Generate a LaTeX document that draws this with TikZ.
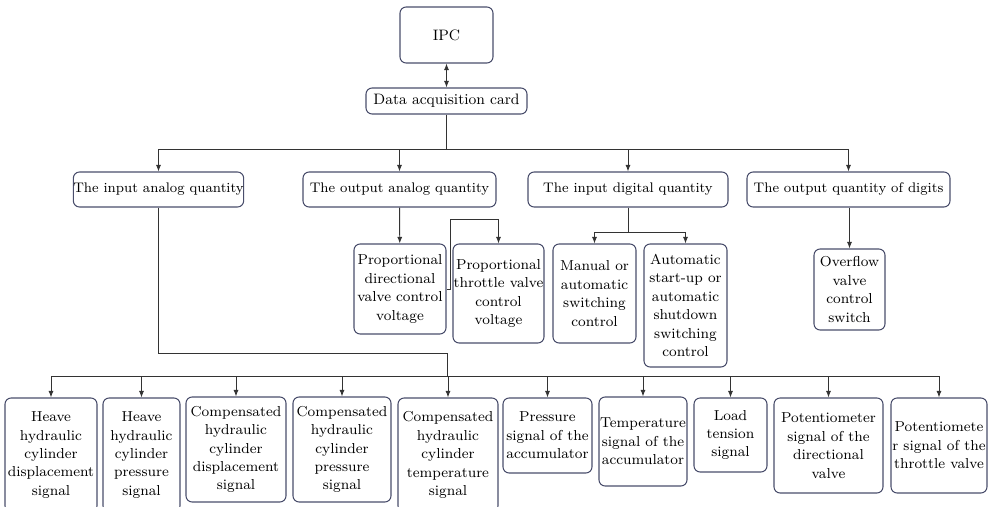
\documentclass[tikz,border=0pt]{standalone}
\usepackage{tikz}
\usetikzlibrary{arrows.meta}
\definecolor{Frame}{HTML}{4A4E6C}
\definecolor{Wire}{HTML}{333333}

\begin{document}
\begin{tikzpicture}[
      x=0.02cm, y=-0.02cm,
      box/.style={draw=Frame, line width=0.6pt, rounded corners=3.5pt, inner sep=0pt,
                  align=center, font=\fontsize{8.2pt}{10.5pt}\selectfont},
      head/.style={box, font=\fontsize{8.6pt}{10.5pt}\selectfont},
      kind/.style={box, font=\fontsize{7.9pt}{10.5pt}\selectfont},
      sz/.style 2 args={minimum width=#1*0.02cm, minimum height=#2*0.02cm},
      wire/.style={Wire, line width=0.55pt},
      ar/.style={wire, -{Latex[length=1.3mm, width=1mm]}},
      dar/.style={wire, {Latex[length=1.3mm, width=1mm]}-{Latex[length=1.3mm, width=1mm]}}]

    \useasboundingbox (0,0) rectangle (991,507);

    % top
    \node[head, sz={93}{56}] (ipc) at (446.5,35) {IPC};
    \node[head, sz={161}{26}] (card) at (446.5,101) {Data acquisition card};

    % quantities
    \node[kind, sz={169}{35}] (ia) at (158.5,189.5) {The input analog quantity};
    \node[kind, sz={193}{35}] (oa) at (399.5,189.5) {The output analog quantity};
    \node[kind, sz={200}{35}] (id) at (628,189.5) {The input digital quantity};
    \node[kind, sz={203}{35}] (od) at (848.5,189.5) {The output quantity of digits};

    % outputs
    \node[box, sz={92}{90}] (dirv) at (400,289) {Proportional\\directional\\valve control\\voltage};
    \node[box, sz={91}{99}] (thr) at (498.5,293.5) {Proportional\\throttle valve\\control\\voltage};
    \node[box, sz={83}{99}] (man) at (594.5,293.5) {Manual or\\automatic\\switching\\control};
    \node[box, sz={83}{123}] (aut) at (685.5,305.5) {Automatic\\start-up or\\automatic\\shutdown\\switching\\control};
    \node[box, sz={71}{81}] (ovf) at (849.5,289.5) {Overflow\\valve\\control\\switch};

    % input signals
    \node[box, sz={92}{114}] (hdisp) at (51,455) {Heave\\hydraulic\\cylinder\\displacement\\signal};
    \node[box, sz={77}{114}] (hpres) at (141.5,455) {Heave\\hydraulic\\cylinder\\pressure\\signal};
    \node[box, sz={100}{105}] (cdisp) at (236,449.5) {Compensated\\hydraulic\\cylinder\\displacement\\signal};
    \node[box, sz={98}{105}] (cpres) at (342,449.5) {Compensated\\hydraulic\\cylinder\\pressure\\signal};
    \node[box, sz={100}{114}] (ctemp) at (448,455) {Compensated\\hydraulic\\cylinder\\temperature\\signal};
    \node[box, sz={89}{75}] (apres) at (547.5,435.5) {Pressure\\signal of the\\accumulator};
    \node[box, sz={88}{89}] (atemp) at (643,441.5) {Temperature\\signal of the\\accumulator};
    \node[box, sz={73}{74}] (load) at (730.5,435) {Load\\tension\\signal};
    \node[box, sz={109}{95}] (potd) at (828.5,445.5) {Potentiometer\\signal of the\\directional\\valve};
    \node[box, sz={96}{95}] (pott) at (939,445.5) {Potentiomete\\r signal of the\\throttle valve};

    % junctions
    \coordinate (topbus) at (446.5,149);
    \coordinate (thrbend) at (450,219);
    \coordinate (idbus) at (628,232);
    \coordinate (iabend) at (447,353);
    \coordinate (lowbus) at (447,376);

    \draw[dar] (ipc) -- (card);
    \draw[wire] (card) -- (topbus);
    \foreach \q in {ia, oa, id, od}
      \draw[ar] (topbus) -| (\q.north);

    \draw[ar] (oa) -- (dirv);
    \draw[ar] (dirv.east) -| (thrbend) -| (thr.north);
    \draw[wire] (id) -- (idbus);
    \draw[ar] (idbus) -| (man.north);
    \draw[ar] (idbus) -| (aut.north);
    \draw[ar] (od.south -| ovf.north) -- (ovf.north);

    \draw[wire] (ia.south) |- (iabend) -- (lowbus);
    \foreach \s in {hdisp, hpres, cdisp, cpres, ctemp, apres, atemp, load, potd, pott}
      \draw[ar] (lowbus) -| (\s.north);
  \end{tikzpicture}
\end{document}
